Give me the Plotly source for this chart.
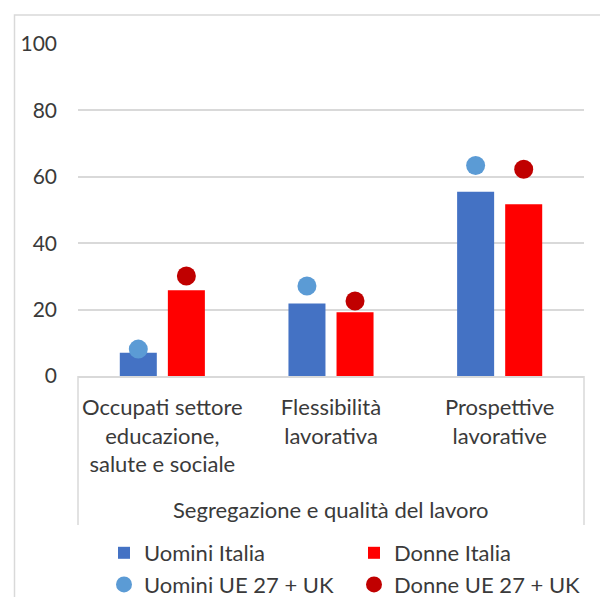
import plotly.graph_objects as go

# ---- data ----
group_label = "Segregazione e qualità del lavoro"
categories = [
    "Occupati settore<br>educazione,<br>salute e sociale",
    "Flessibilità<br>lavorativa",
    "Prospettive<br>lavorative",
]
uomini_italia = [7.0, 21.8, 55.5]
donne_italia = [25.8, 19.2, 51.7]
uomini_ue = [8.1, 27.1, 63.4]
donne_ue = [30.1, 22.6, 62.3]
y_ticks = [0, 20, 40, 60, 80, 100]

# ---- layout geometry (pixels) ----
W, H = 600, 597
L, R, T, B = 78, 16, 44, 221
PW, PH = W - L - R, H - T - B

def px_x(p):
    return (p - L) / PW

def px_y(p):
    return (H - B - p) / PH

FONT = "Lato, 'Open Sans', sans-serif"
TXT = "#3a3a3a"
GRID = "#d9d9d9"

fig = go.Figure()
fig.add_trace(go.Bar(name="Uomini Italia", x=categories, y=uomini_italia,
                     marker=dict(color="#4472C4", line=dict(width=0)),
                     offsetgroup="u", legend="legend"))
fig.add_trace(go.Bar(name="Donne Italia", x=categories, y=donne_italia,
                     marker=dict(color="#FF0000", line=dict(width=0)),
                     offsetgroup="d", legend="legend2"))
fig.add_trace(go.Scatter(name="Uomini UE 27 + UK", x=categories, y=uomini_ue,
                         mode="markers", orientation="v", offsetgroup="u",
                         marker=dict(color="#5B9BD5", size=19, line=dict(width=0)),
                         legend="legend"))
fig.add_trace(go.Scatter(name="Donne UE 27 + UK", x=categories, y=donne_ue,
                         mode="markers", orientation="v", offsetgroup="d",
                         marker=dict(color="#C00000", size=19, line=dict(width=0)),
                         legend="legend2"))

legend_common = dict(
    orientation="v", xanchor="left", yanchor="top",
    font=dict(family=FONT, size=22, color=TXT),
    bgcolor="rgba(0,0,0,0)", borderwidth=0, tracegroupgap=0,
    itemsizing="trace", traceorder="normal",
)

fig.update_layout(
    width=W, height=H,
    margin=dict(l=L, r=R, t=T, b=B, autoexpand=False),
    paper_bgcolor="white", plot_bgcolor="white",
    font=dict(family=FONT, size=22, color=TXT),
    barmode="group", bargap=0.43, bargroupgap=0.23,
    scattermode="group", scattergap=0.43,
    showlegend=True,
    legend=dict(x=px_x(104), y=px_y(532), **legend_common),
    legend2=dict(x=px_x(354), y=px_y(532), **legend_common),
    xaxis=dict(
        type="category",
        showline=True, linecolor=GRID, linewidth=1.5,
        showgrid=False, ticks="", ticklabelstandoff=11,
        tickfont=dict(family=FONT, size=22, color=TXT),
        automargin=False,
    ),
    yaxis=dict(
        range=[0, 100], tickvals=y_ticks, ticktext=[str(v) for v in y_ticks],
        showgrid=True, gridcolor=GRID, gridwidth=1.5,
        zeroline=False, showline=False, ticks="", ticklabelstandoff=20,
        tickfont=dict(family=FONT, size=21, color=TXT),
        automargin=False,
    ),
    annotations=[
        dict(text=group_label, xref="paper", yref="paper",
             x=0.5, y=px_y(509), xanchor="center", yanchor="middle",
             showarrow=False, font=dict(family=FONT, size=22, color=TXT)),
    ],
    shapes=[
        dict(type="rect", xref="paper", yref="paper",
             x0=px_x(14.5), x1=px_x(620), y0=px_y(15), y1=px_y(620),
             line=dict(color=GRID, width=1.5), fillcolor="rgba(0,0,0,0)",
             layer="below"),
        dict(type="line", xref="paper", yref="paper",
             x0=0, x1=0, y0=0, y1=px_y(525),
             line=dict(color=GRID, width=1.5)),
        dict(type="line", xref="paper", yref="paper",
             x0=1, x1=1, y0=0, y1=px_y(525),
             line=dict(color=GRID, width=1.5)),
    ],
)

fig.write_html("out.html", config={"displayModeBar": False},
               post_script="document.body.style.margin='0px';")
